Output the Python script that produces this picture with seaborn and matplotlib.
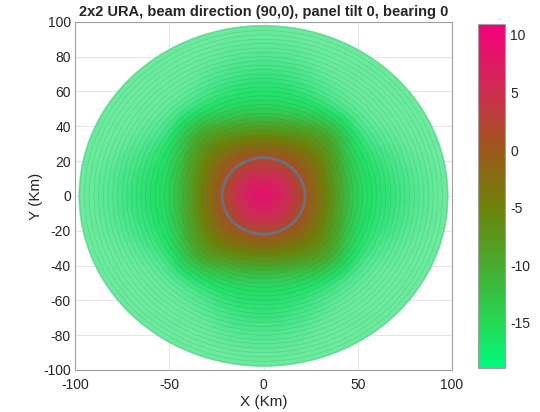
import numpy as np
import matplotlib
matplotlib.use("Agg")
import matplotlib.pyplot as plt
import seaborn as sns
from matplotlib.colors import LinearSegmentedColormap, Normalize
from matplotlib.patches import Circle
from matplotlib.cm import ScalarMappable

# ==========================
# Data
# ==========================

title = "2x2 URA, beam direction (90,0), panel tilt 0, bearing 0"

# one quadrant of the gain map (dB), rows are y = 0..100 km, cols are x = 0..100 km
grid_km = [0, 10, 20, 30, 40, 50, 60, 70, 80, 90, 100]
gain_quadrant = [
    [10.9, 7.0, 2.0, -2.5, -9.0, -14.5, -15.5, -16.0, -17.5, -18.5, -18.9],
    [7.0, 5.5, 1.5, -3.0, -9.5, -14.5, -15.5, -16.5, -17.5, -18.5, -18.9],
    [2.0, 1.5, -1.0, -4.5, -10.0, -15.0, -16.0, -17.0, -18.0, -18.9, -18.9],
    [-2.5, -3.0, -4.5, -6.0, -11.0, -15.5, -17.0, -18.0, -18.9, -18.9, -18.9],
    [-9.0, -9.5, -10.0, -11.0, -13.0, -17.0, -18.5, -18.9, -18.9, -18.9, -18.9],
    [-14.5, -14.5, -15.0, -15.5, -17.0, -18.5, -18.9, -18.9, -18.9, -18.9, -18.9],
    [-15.5, -15.5, -16.0, -17.0, -18.5, -18.9, -18.9, -18.9, -18.9, -18.9, -18.9],
    [-16.0, -16.5, -17.0, -18.0, -18.9, -18.9, -18.9, -18.9, -18.9, -18.9, -18.9],
    [-17.5, -17.5, -18.0, -18.9, -18.9, -18.9, -18.9, -18.9, -18.9, -18.9, -18.9],
    [-18.5, -18.5, -18.9, -18.9, -18.9, -18.9, -18.9, -18.9, -18.9, -18.9, -18.9],
    [-18.9, -18.9, -18.9, -18.9, -18.9, -18.9, -18.9, -18.9, -18.9, -18.9, -18.9],
]

disk_radius = 98        # km, edge of the ground disk
coverage_radius = 22    # km, grey circle
clim = (-18.9, 10.95)
cbar_ticks = [-15, -10, -5, 0, 5, 10]
axis_ticks = [-100, -50, 0, 50, 100]
y_ticks = [-100, -80, -60, -40, -20, 0, 20, 40, 60, 80, 100]

# colour stops of the colormap
bar_stops = [
    (0.00, (0.00, 0.98, 0.50)),
    (0.13, (0.14, 0.85, 0.33)),
    (0.30, (0.28, 0.67, 0.18)),
    (0.47, (0.43, 0.51, 0.04)),
    (0.63, (0.61, 0.35, 0.10)),
    (0.80, (0.80, 0.18, 0.31)),
    (1.00, (0.96, 0.00, 0.49)),
]
# the surface looks paler at the low end (mesh lines)
img_stops = [
    (0.00, (0.42, 0.92, 0.62)),
    (0.06, (0.30, 0.90, 0.55)),
    (0.12, (0.14, 0.88, 0.42)),
] + bar_stops[2:]

# ==========================
# Build full map from quadrant
# ==========================

q = np.array(gain_quadrant)
half = np.vstack([np.flipud(q[1:]), q])
gain = np.hstack([np.fliplr(half[:, 1:]), half])
step = grid_km[1] - grid_km[0]
ext = grid_km[-1] + step / 2

cmap_bar = LinearSegmentedColormap.from_list("pinkgreen", bar_stops)
cmap_img = LinearSegmentedColormap.from_list("pinkgreen_img", img_stops)
norm = Normalize(*clim)

# ==========================
# Plot
# ==========================

sns.set_style("white")
plt.rcParams["font.family"] = ["Liberation Sans", "DejaVu Sans"]
plt.rcParams["axes.unicode_minus"] = False

fig = plt.figure(figsize=(5.4, 4.12), dpi=100)
ax = fig.add_axes([0.139, 0.102, 0.698, 0.845])
cax = fig.add_axes([0.885, 0.107, 0.05, 0.835])

im = ax.imshow(gain, extent=(-ext, ext, -ext, ext), origin="lower",
               cmap=cmap_img, norm=norm, interpolation="bicubic", zorder=2)
clip = Circle((0, 0), disk_radius, transform=ax.transData)
im.set_clip_path(clip)

# faint mesh rings
for r in np.arange(2.5, disk_radius, 2.5):
    ax.add_patch(Circle((0, 0), r, fill=False, ec="#2a7a4a", lw=0.35,
                        alpha=0.28, zorder=3))
ax.add_patch(Circle((0, 0), disk_radius, fill=False, ec="#5fcf95", lw=0.6,
                    alpha=0.6, zorder=3))

ax.add_patch(Circle((0, 0), coverage_radius, fill=False, ec="#6b7080",
                    lw=2.0, zorder=4))

ax.set_xlim(-100, 100)
ax.set_ylim(-100, 100)
ax.set_aspect("auto")
ax.set_xticks(axis_ticks)
ax.set_yticks(y_ticks)
ax.grid(True, color="#e6e6e6", lw=0.8)
ax.set_axisbelow(True)
for s in ax.spines.values():
    s.set_color("#a0a0a0")
    s.set_linewidth(0.8)
ax.tick_params(direction="in", length=3, color="#a0a0a0", labelsize=10,
               labelcolor="#262626")
ax.tick_params(axis="x", pad=6)
ax.tick_params(axis="y", pad=3)
ax.set_xlabel("X (Km)", fontsize=11, color="#262626", labelpad=2)
ax.set_ylabel("Y (Km)", fontsize=11, color="#262626", labelpad=0)
ax.set_title(title, fontsize=10.5, fontweight="bold", pad=4)

sm = ScalarMappable(norm=norm, cmap=cmap_bar)
cb = fig.colorbar(sm, cax=cax, ticks=cbar_ticks)
cb.outline.set_edgecolor("#a0a0a0")
cb.outline.set_linewidth(0.8)
cax.tick_params(direction="in", length=3, color="#a0a0a0", labelsize=10,
                labelcolor="#262626", pad=4)

fig.savefig("out.png", dpi=100)
